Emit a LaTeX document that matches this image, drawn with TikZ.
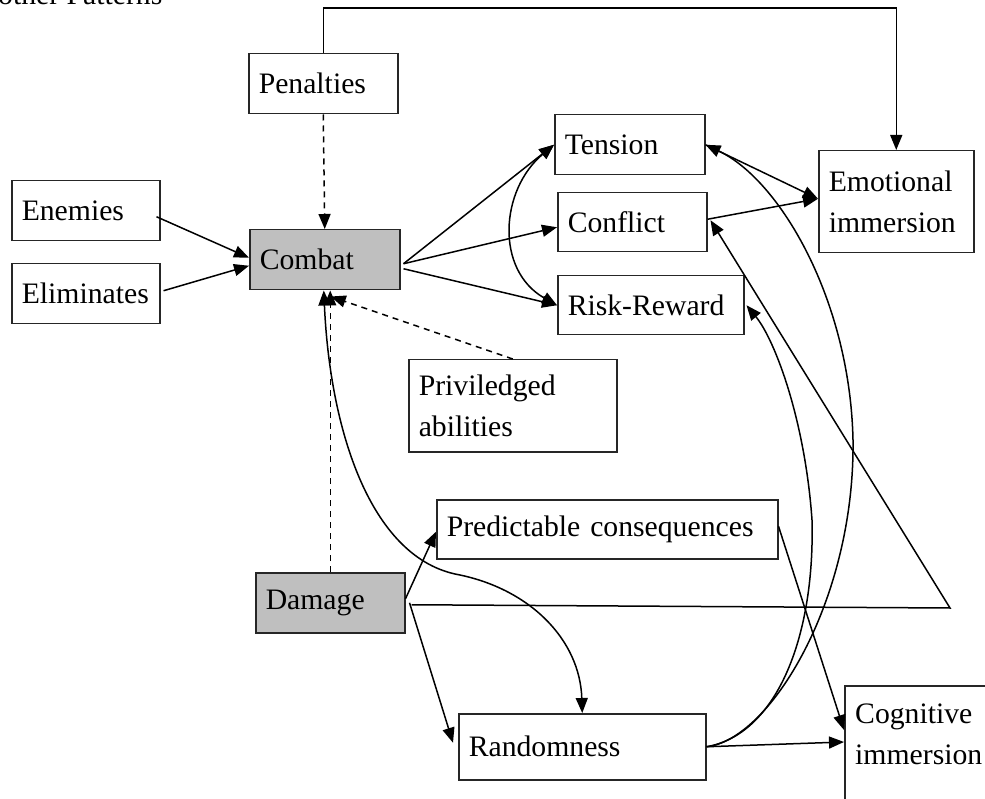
\documentclass[tikz,border=0pt]{standalone}
\usepackage{fontspec}
\setmainfont{Liberation Serif}
\usetikzlibrary{arrows.meta}
\newcommand\fsz{\fontsize{29.7pt}{41pt}\selectfont}
\tikzset{
  box/.style={draw=black!85, line width=1.5pt, anchor=north west, inner xsep=10pt, inner ysep=0pt, align=left, font=\fsz},
  gbox/.style={box, fill=black!25},
  arr/.style={-{Triangle[length=15pt,width=12pt]}, line width=1.5pt},
  darr/.style={arr, dash pattern=on 6pt off 5pt},
  barr/.style={{Triangle[length=15pt,width=12pt]}-{Triangle[length=15pt,width=12pt]}, line width=1.5pt},
}
\begin{document}
\begin{tikzpicture}[x=1pt,y=-1pt]
\useasboundingbox (0,0) rectangle (985,799);
% title (cut off at top, as in the reference)
\node[anchor=base west, inner sep=0pt, font=\fsz] (title) at (-2,5) {other Patterns};
% boxes
\node[box, minimum width=149pt, minimum height=60pt, text width=129pt] (pen) at (248,53) {Penalties};
\node[box, minimum width=148pt, minimum height=60pt, text width=128pt] (ene) at (11,180) {Enemies};
\node[box, minimum width=148pt, minimum height=60pt, text width=128pt] (eli) at (11,263) {Eliminates};
\node[gbox, minimum width=150pt, minimum height=60pt, text width=130pt] (com) at (249,229) {Combat};
\node[box, minimum width=150pt, minimum height=60pt, text width=130pt] (ten) at (554,114) {Tension};
\node[box, minimum width=149pt, minimum height=59pt, text width=129pt] (con) at (557,192) {Conflict};
\node[box, minimum width=186pt, minimum height=59pt, text width=166pt] (rr) at (557,275) {Risk-Reward};
\node[box, minimum width=155pt, minimum height=102pt, text width=135pt] (emo) at (818,150) {Emotional\\immersion};
\node[box, minimum width=208pt, minimum height=92pt, text width=188pt] (pri) at (408,359) {Priviledged\\abilities};
\node[box, minimum width=341pt, minimum height=59pt, text width=321pt] (pred) at (436,499) {Predictable consequences};
\node[gbox, minimum width=149pt, minimum height=60pt, text width=129pt] (dam) at (255,572) {Damage};
\node[box, minimum width=247pt, minimum height=66pt, text width=227pt] (ran) at (458,713) {Randomness};
\node[draw=black!85, line width=1.5pt, anchor=north west, inner sep=0pt, minimum width=170pt, minimum height=150pt] (cog) at (844,685) {};
\node[anchor=north west, inner xsep=10pt, inner ysep=0pt, align=left, font=\fsz] (cogt) at (845,704) {Cognitive\\immersion};
\coordinate (bend) at (950,608);
% connectors
\draw[arr] (pen.north) -- ++(0,-45) -| (emo.north);
\draw[darr] (pen.south) -- (com.north);
\draw[arr] ([xshift=-4pt,yshift=-6pt]ene.east) -- ([yshift=2pt]com.west);
\draw[arr] ([xshift=3pt,yshift=3pt]eli.east) -- ([yshift=-6pt]com.west);
\draw[arr] ([xshift=3pt,yshift=-4pt]com.east) -- (ten.west);
\draw[arr] ([xshift=3pt,yshift=-4pt]com.east) -- ([yshift=-5pt]con.west);
\draw[arr] ([xshift=3pt,yshift=-9pt]com.east) -- (rr.west);
\draw[barr] (ten.west) .. controls (500,190) and (495,270) .. (rr.west);
\draw[arr] (ten.east) -- ([yshift=3pt]emo.west);
\draw[arr] ([yshift=3pt]con.east) -- ([yshift=3pt]emo.west);
\draw[darr] (pri.north) -- ([xshift=6pt,yshift=-6pt]com.south);
\draw[darr] (dam.north) -- (dam.north |- com.south);
\draw[barr] ([xshift=-1pt]com.south) .. controls (330,430) and (370,555) .. (455,574) .. controls (530,588) and (580,640) .. (ran.north);
\draw[arr] ([yshift=4pt]dam.east) -- ([yshift=-2.5pt]pred.west);
\draw[arr] ([xshift=4pt]dam.east) -- ([xshift=-5pt,yshift=4pt]ran.west);
\draw[arr] ([xshift=6pt,yshift=-2pt]dam.east) -- (bend) -- ([xshift=3pt,yshift=2pt]con.east);
\draw[arr] ([yshift=3pt]pred.east) -- ([yshift=-45pt]cog.north west);
\draw[arr] (ran.east) -- ([yshift=-57pt]cog.north west);
\draw[arr] (ran.east) .. controls (770,740) and (855,600) .. (853,440) .. controls (850,300) and (780,180) .. (ten.east);
\draw[arr] (ran.east) .. controls (775,735) and (815,640) .. (812,520) .. controls (805,420) and (775,340) .. ([xshift=2pt]rr.east);
\end{tikzpicture}
\end{document}
